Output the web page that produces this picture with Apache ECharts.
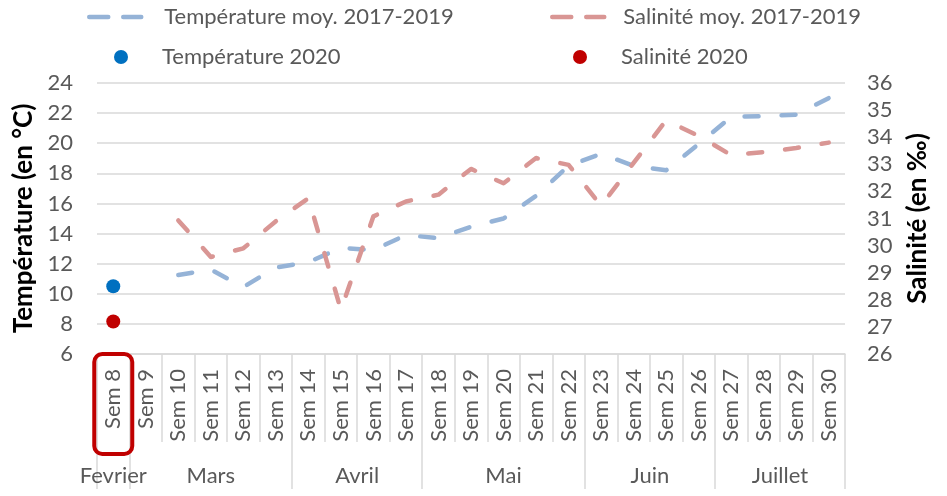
<!DOCTYPE html>
<html><head><meta charset="utf-8">
<script src="https://cdn.jsdelivr.net/npm/echarts@6/dist/echarts.min.js"></script>
<style>html,body{margin:0;padding:0;background:#fff}#c{width:947px;height:496px}</style>
</head><body><div id="c"></div>
<script>
const weeks = ['Sem 8','Sem 9','Sem 10','Sem 11','Sem 12','Sem 13','Sem 14','Sem 15','Sem 16','Sem 17','Sem 18','Sem 19','Sem 20','Sem 21','Sem 22','Sem 23','Sem 24','Sem 25','Sem 26','Sem 27','Sem 28','Sem 29','Sem 30'];
const monthNames = ['Fevrier','Mars','Avril','Mai','Juin','Juillet'];
const monthWeekCounts = [1,5,4,5,4,4];
const tempMoy = [null,null,11.25,11.6,10.45,11.75,12.1,13.05,12.9,13.9,13.7,14.45,15.0,16.5,18.5,19.3,18.5,18.2,19.95,21.75,21.8,21.9,23.0];
const salMoy  = [null,null,30.93,29.58,29.9,30.9,31.75,27.63,31.08,31.63,31.88,32.83,32.3,33.23,32.98,31.47,33.05,34.62,34.05,33.34,33.45,33.6,33.8];
const temp2020 = [10.5,null,null,null,null,null,null,null,null,null,null,null,null,null,null,null,null,null,null,null,null,null,null];
const sal2020  = [27.2,null,null,null,null,null,null,null,null,null,null,null,null,null,null,null,null,null,null,null,null,null,null];
const tempAxis = {min: 6, max: 24, interval: 2};
const salAxis = {min: 26, max: 36, interval: 1};
const highlightedWeek = 'Sem 8';

// month axis: half-week positions
const halfCount = weeks.length * 2 + 1;
const monthCats = [];
for (let i = 0; i < halfCount; i++) monthCats.push(String(i));
const monthLabelAt = {};
const monthBoundary = new Set();
let start = 0;
monthNames.forEach((m, k) => {
  const n = monthWeekCounts[k];
  monthBoundary.add(2 * start);
  monthLabelAt[2 * start + n] = m;
  start += n;
});
monthBoundary.add(2 * start);

const FONT = 'Lato, "Open Sans", sans-serif';
const GREY = '#595959';
const GRID = '#d9d9d9';
const LBL_PAD = [8, 15, 8, 25];

const chart = echarts.init(document.getElementById('c'));
function legendItem(name, left, top, w, h, pad, isLine) {
  const o = {
    data: [name], left: left, top: top, padding: 0,
    itemWidth: w, itemHeight: h, selectedMode: false,
    textStyle: {fontSize: 22, color: GREY, fontFamily: FONT, lineHeight: 26, padding: [0, 0, 0, pad]}
  };
  if (isLine) {
    o.itemStyle = {color: 'transparent', borderWidth: 0, opacity: 0};
    o.lineStyle = {type: [19, 15], width: 4.5, cap: 'round'};
  }
  return o;
}
chart.setOption({
  animation: false,
  textStyle: {fontFamily: FONT},
  legend: [
    legendItem('Température moy. 2017-2019', 87, 4, 52, 14, 18, true),
    legendItem('Salinité moy. 2017-2019', 550, 4, 52, 14, 14, true),
    legendItem('Température 2020', 114, 44, 14, 14, 29, false),
    legendItem('Salinité 2020', 573, 44, 14, 14, 29, false)
  ],
  grid: {left: 97, right: 102, top: 83, bottom: 142},
  xAxis: [{
    type: 'category', data: weeks, boundaryGap: true, position: 'bottom',
    axisLine: {show: true, lineStyle: {color: GRID, width: 1.5}},
    axisTick: {show: true, interval: 0, length: 88, lineStyle: {color: GRID, width: 1.5}},
    axisLabel: {
      interval: 0, rotate: 90, margin: 0,
      fontSize: 22, color: GREY, fontFamily: FONT,
      formatter: (v) => v === highlightedWeek ? '{hl|' + v + '}' : '{n|' + v + '}',
      rich: {
        n: {fontSize: 22, color: GREY, fontFamily: FONT, padding: LBL_PAD},
        hl: {fontSize: 22, color: GREY, fontFamily: FONT, borderColor: '#c00000', borderWidth: 4, borderRadius: 8, padding: LBL_PAD}
      }
    },
    splitLine: {show: false}
  }, {
    type: 'category', data: monthCats, boundaryGap: false, position: 'bottom', offset: 88,
    axisLine: {show: false},
    axisTick: {show: true, length: 47, interval: (i) => monthBoundary.has(i), lineStyle: {color: GRID, width: 1.5}},
    axisLabel: {
      interval: (i) => monthLabelAt[i] !== undefined, margin: 23,
      fontSize: 22, color: GREY, fontFamily: FONT,
      formatter: (v) => monthLabelAt[+v] || ''
    },
    splitLine: {show: false}
  }],
  yAxis: [{
    type: 'value', position: 'left', min: tempAxis.min, max: tempAxis.max, interval: tempAxis.interval,
    axisLine: {show: false}, axisTick: {show: false},
    axisLabel: {fontSize: 22, color: GREY, margin: 24, fontFamily: FONT},
    splitLine: {show: true, lineStyle: {color: GRID, width: 1.5}},
    name: 'Température (en °C)', nameLocation: 'middle', nameRotate: 90, nameGap: 58,
    nameTextStyle: {fontSize: 26, fontWeight: 'bold', color: '#000', fontFamily: FONT}
  }, {
    type: 'value', position: 'right', min: salAxis.min, max: salAxis.max, interval: salAxis.interval,
    axisLine: {show: false}, axisTick: {show: false},
    axisLabel: {fontSize: 22, color: GREY, margin: 22, fontFamily: FONT},
    splitLine: {show: false},
    name: 'Salinité (en ‰)', nameLocation: 'middle', nameRotate: 90, nameGap: 60,
    nameTextStyle: {fontSize: 26, fontWeight: 'bold', color: '#000', fontFamily: FONT}
  }],
  series: [{
    name: 'Température moy. 2017-2019', type: 'line', xAxisIndex: 0, yAxisIndex: 0,
    data: tempMoy, symbol: 'none', color: '#95b3d7',
    lineStyle: {width: 4.5, type: [14, 23], cap: 'round', join: 'round', color: '#95b3d7'}
  }, {
    name: 'Salinité moy. 2017-2019', type: 'line', xAxisIndex: 0, yAxisIndex: 1,
    data: salMoy, symbol: 'none', color: '#d99694',
    lineStyle: {width: 4.5, type: [14, 23], cap: 'round', join: 'round', color: '#d99694'}
  }, {
    name: 'Température 2020', type: 'scatter', xAxisIndex: 0, yAxisIndex: 0,
    data: temp2020, symbol: 'circle', symbolSize: 14, itemStyle: {color: '#0070c0', opacity: 1}
  }, {
    name: 'Salinité 2020', type: 'scatter', xAxisIndex: 0, yAxisIndex: 1,
    data: sal2020, symbol: 'circle', symbolSize: 14, itemStyle: {color: '#c00000', opacity: 1}
  }]
});
</script>
</body></html>
